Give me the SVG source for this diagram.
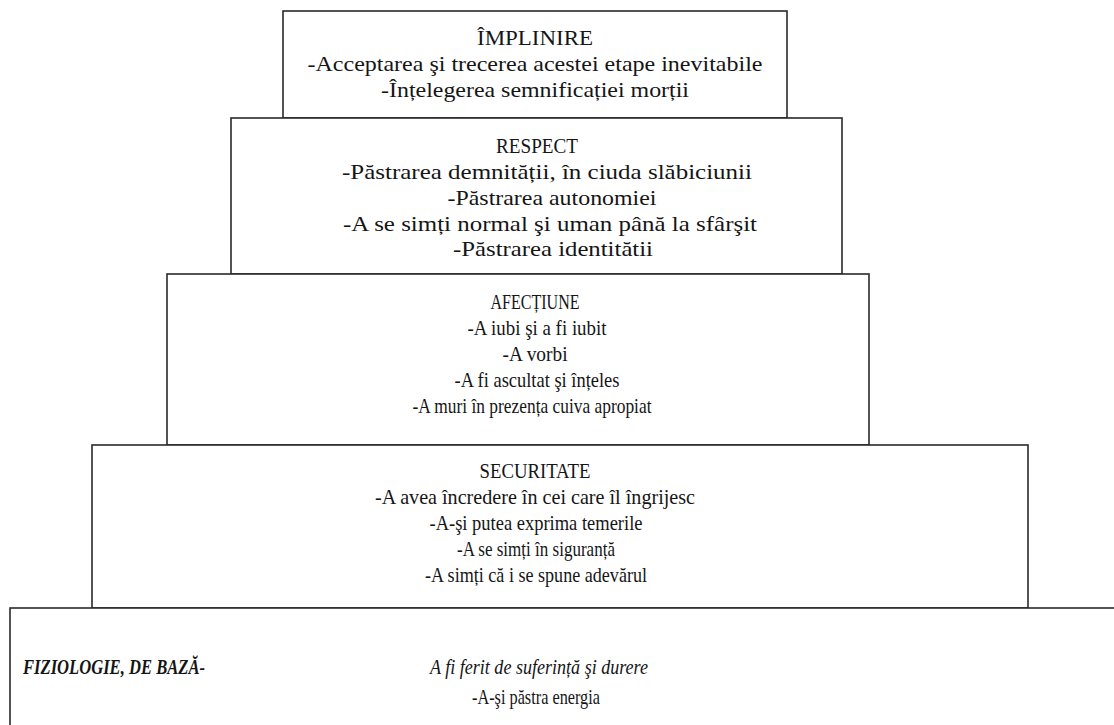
<svg xmlns="http://www.w3.org/2000/svg" width="1114" height="725" viewBox="0 0 1114 725">
<style>
.box{fill:#fff;stroke:#2a2a2a;stroke-width:1.6}
text{font-family:"Liberation Serif","Times New Roman","DejaVu Serif",serif;font-size:21px;fill:#151515;text-anchor:middle}
.i{font-style:italic}
.b{font-weight:bold;font-style:italic;text-anchor:start}
</style>
<rect width="1114" height="725" fill="#fff"/>
<g id="level1">
<rect class="box" x="283" y="11" width="504" height="107"/>
<text x="535" y="45" textLength="116" lengthAdjust="spacingAndGlyphs">ÎMPLINIRE</text>
<text x="535" y="71" textLength="455" lengthAdjust="spacingAndGlyphs">-Acceptarea şi trecerea acestei etape inevitabile</text>
<text x="535" y="97" textLength="308" lengthAdjust="spacingAndGlyphs">-Înțelegerea semnificației morții</text>
</g>
<g id="level2">
<rect class="box" x="231" y="118" width="611" height="156"/>
<text x="537" y="153" textLength="82" lengthAdjust="spacingAndGlyphs">RESPECT</text>
<text x="547" y="179" textLength="410" lengthAdjust="spacingAndGlyphs">-Păstrarea demnității, în ciuda slăbiciunii</text>
<text x="552" y="205" textLength="209" lengthAdjust="spacingAndGlyphs">-Păstrarea autonomiei</text>
<text x="550" y="231" textLength="414" lengthAdjust="spacingAndGlyphs">-A se simți normal şi uman până la sfârşit</text>
<text x="553" y="256" textLength="200" lengthAdjust="spacingAndGlyphs">-Păstrarea identitătii</text>
</g>
<g id="level3">
<rect class="box" x="167" y="274" width="702" height="171"/>
<text x="535" y="309" textLength="89" lengthAdjust="spacingAndGlyphs">AFECȚIUNE</text>
<text x="537" y="335" textLength="139" lengthAdjust="spacingAndGlyphs">-A iubi şi a fi iubit</text>
<text x="535" y="361" textLength="65" lengthAdjust="spacingAndGlyphs">-A vorbi</text>
<text x="537" y="387" textLength="165" lengthAdjust="spacingAndGlyphs">-A fi ascultat şi înțeles</text>
<text x="532" y="413" textLength="239" lengthAdjust="spacingAndGlyphs">-A muri în prezența cuiva apropiat</text>
</g>
<g id="level4">
<rect class="box" x="92" y="445" width="936" height="163"/>
<text x="535" y="478" textLength="111" lengthAdjust="spacingAndGlyphs">SECURITATE</text>
<text x="535" y="504" textLength="320" lengthAdjust="spacingAndGlyphs">-A avea încredere în cei care îl îngrijesc</text>
<text x="536" y="530" textLength="213" lengthAdjust="spacingAndGlyphs">-A-şi putea exprima temerile</text>
<text x="536" y="556" textLength="158" lengthAdjust="spacingAndGlyphs">-A se simți în siguranță</text>
<text x="536" y="582" textLength="222" lengthAdjust="spacingAndGlyphs">-A simți că i se spune adevărul</text>
</g>
<g id="level5">
<rect class="box" x="10" y="608" width="1120" height="130"/>
<text class="b" x="23" y="674" textLength="182" lengthAdjust="spacingAndGlyphs">FIZIOLOGIE, DE BAZĂ-</text>
<text class="i" x="539" y="674" textLength="218" lengthAdjust="spacingAndGlyphs">A fi ferit de suferință şi durere</text>
<text x="536" y="704" textLength="128" lengthAdjust="spacingAndGlyphs">-A-şi păstra energia</text>
</g>
<g id="connectors"/>
</svg>
